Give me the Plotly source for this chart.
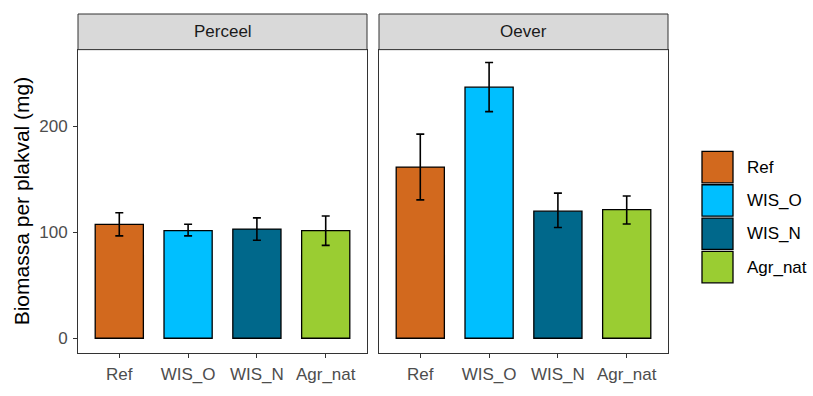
import plotly.graph_objects as go

# ---- data ----
categories = ["Ref", "WIS_O", "WIS_N", "Agr_nat"]
colors = ["#D2691E", "#00BFFF", "#00688B", "#9ACD32"]
panels = ["Perceel", "Oever"]

perceel_mean = [107.4, 101.4, 102.9, 101.4]
perceel_low = [96.5, 96.5, 92.3, 87.5]
perceel_high = [118.3, 107.4, 113.4, 115.2]

oever_mean = [161.3, 236.6, 119.8, 121.3]
oever_low = [130.4, 213.6, 104.4, 107.7]
oever_high = [192.4, 259.9, 136.8, 134.0]

y_ticks = [0, 100, 200]

# ---- layout geometry (screen pixels) ----
W, H = 813, 396
ML, MR, MT, MB = 78, 145, 14, 30
PW = W - ML - MR
PH = H - MT - MB


def px_x(px):
    return (px - ML) / PW


def px_y(py):
    return (H - MB - py) / PH


panel_top = px_y(51)
dom1 = [0, px_x(367)]
dom2 = [px_x(379), 1]

FONT = "Liberation Sans, Arial, sans-serif"
FS = 17

fig = go.Figure()

for i, (means, lows, highs) in enumerate([(perceel_mean, perceel_low, perceel_high),
                                           (oever_mean, oever_low, oever_high)]):
    xa = "x" if i == 0 else "x2"
    ya = "y" if i == 0 else "y2"
    fig.add_trace(go.Bar(
        x=categories, y=means,
        marker=dict(color=colors, line=dict(color="black", width=1.3)),
        width=0.7,
        error_y=dict(type="data", symmetric=False,
                     array=[h - m for h, m in zip(highs, means)],
                     arrayminus=[m - l for m, l in zip(means, lows)],
                     color="black", thickness=1.6, width=4),
        xaxis=xa, yaxis=ya, showlegend=False,
    ))

axis_common = dict(showline=True, mirror=True, linecolor="#333333", linewidth=1,
                   showgrid=False, zeroline=False)
xcommon = dict(axis_common, range=[-0.6, 3.6], ticks="outside", ticklen=4,
               tickcolor="#333333", tickwidth=1, ticklabelstandoff=2,
               tickfont=dict(family=FONT, size=FS, color="#4D4D4D"))
yr = [-13.9, 272]

fig.update_layout(
    width=W, height=H,
    margin=dict(l=ML, r=MR, t=MT, b=MB, pad=0),
    plot_bgcolor="white", paper_bgcolor="white",
    font=dict(family=FONT),
    xaxis=dict(xcommon, domain=dom1, anchor="y"),
    xaxis2=dict(xcommon, domain=dom2, anchor="y2"),
    yaxis=dict(axis_common, domain=[0, panel_top], range=yr, tickvals=y_ticks,
               ticks="outside", ticklen=4, tickcolor="#333333", tickwidth=1,
               ticklabelstandoff=2,
               tickfont=dict(family=FONT, size=FS, color="#4D4D4D"), anchor="x"),
    yaxis2=dict(axis_common, domain=[0, panel_top], range=yr, showticklabels=False,
                ticks="", anchor="x2", matches="y"),
    bargap=0.3,
)

shapes = []
annotations = []
# facet strips
for dom, name in zip([dom1, dom2], panels):
    shapes.append(dict(type="rect", xref="paper", yref="paper",
                       x0=dom[0], x1=dom[1], y0=panel_top, y1=1,
                       fillcolor="#D9D9D9", line=dict(color="#333333", width=1),
                       layer="above"))
    annotations.append(dict(xref="paper", yref="paper", x=(dom[0] + dom[1]) / 2,
                            y=(panel_top + 1) / 2, text=name, showarrow=False,
                            xanchor="center", yanchor="middle",
                            font=dict(family=FONT, size=FS, color="#1A1A1A")))

# y axis title
annotations.append(dict(xref="paper", yref="paper", x=px_x(21), y=panel_top / 2,
                        text="Biomassa per plakval (mg)", textangle=-90, showarrow=False,
                        xanchor="center", yanchor="middle",
                        font=dict(family=FONT, size=21, color="black")))

# legend (manual, ggplot-style keys)
key_top = 155.7
key_h = 34.6
for j, (cat, col) in enumerate(zip(categories, colors)):
    t = key_top + j * key_h
    shapes.append(dict(type="rect", xref="paper", yref="paper",
                       x0=px_x(702), x1=px_x(733), y0=px_y(t + key_h - 1), y1=px_y(t + 1),
                       fillcolor=col, line=dict(color="black", width=1.3)))
    annotations.append(dict(xref="paper", yref="paper", x=px_x(745),
                            y=px_y(t + key_h / 2), text=cat, showarrow=False,
                            xanchor="left", yanchor="middle",
                            font=dict(family=FONT, size=FS, color="black")))

fig.update_layout(shapes=shapes, annotations=annotations)

fig.write_html(
    "out.html",
    config={"displayModeBar": False, "responsive": False},
    post_script=(
        "document.documentElement.style.margin='0';"
        "document.documentElement.style.overflow='hidden';"
        "document.body.style.margin='0';"
        "document.body.style.overflow='hidden';"
    ),
)
